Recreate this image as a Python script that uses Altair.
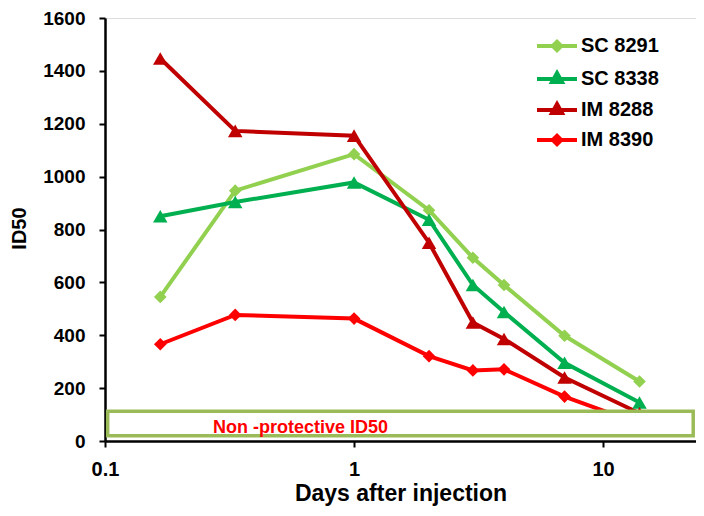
import altair as alt
import pandas as pd

# ---- data ----
days = [0.1667, 0.3333, 1, 2, 3, 4, 7, 14]
series_names = ["SC 8291", "SC 8338", "IM 8288", "IM 8390"]
sc_8291 = [545, 947, 1085, 873, 693, 590, 398, 225]
sc_8338 = [850, 904, 978, 837, 590, 488, 296, 146]
im_8288 = [1447, 1173, 1155, 750, 448, 386, 240, 105]
im_8390 = [366, 477, 463, 321, 267, 271, 168, 65]

x_ticks = [0.1, 1, 10]
y_ticks = [0, 200, 400, 600, 800, 1000, 1200, 1400, 1600]

# non-protective band and its label (data units)
band_x = [0.1025, 23.0]
band_y = [20, 113]
note_text = "Non -protective ID50"
note_x = 0.61
note_y = 50

# ---- styles ----
series_colors = ["#92D050", "#00B050", "#C00000", "#FF0000"]
diamond_series = ["SC 8291", "IM 8390"]
triangle_series = ["SC 8338", "IM 8288"]
legend_diamond = "M-2,0L2,0M-0.42,0L0,-0.42L0.42,0L0,0.42Z"
legend_triangle = "M-2,0L2,0M0,-0.6L0.5,0.3L-0.5,0.3Z"
legend_paths = [legend_diamond, legend_triangle, legend_triangle, legend_diamond]
FONT = "Liberation Sans"

rows = []
for name, vals in zip(series_names, [sc_8291, sc_8338, im_8288, im_8390]):
    for d, v in zip(days, vals):
        rows.append({"series": name, "days": d, "id50": v})
df = pd.DataFrame(rows)

band_df = pd.DataFrame({"days": [band_x[0]], "days2": [band_x[1]],
                        "id50": [band_y[0]], "id502": [band_y[1]]})
note_df = pd.DataFrame({"days": [note_x], "id50": [note_y], "label": [note_text]})

x_scale = alt.Scale(type="log", domain=[0.1, 23.6], nice=False)
y_scale = alt.Scale(domain=[0, 1600], nice=False, zero=True)

x_axis = alt.Axis(values=x_ticks, format="~g", grid=False,
                  labelFont=FONT, labelFontSize=20, labelFontWeight="bold",
                  labelColor="black", labelPadding=12, labelFlush=False,
                  tickSize=6, tickWidth=2, tickColor="black",
                  domainColor="black", domainWidth=2.5,
                  titleFont=FONT, titleFontSize=23, titleFontWeight="bold",
                  titleColor="black", titleY=52, titleBaseline="middle")
y_axis = alt.Axis(values=y_ticks, format="d", grid=False,
                  labelFont=FONT, labelFontSize=19, labelFontWeight="bold",
                  labelColor="black", labelPadding=14,
                  tickSize=6, tickWidth=2, tickColor="black",
                  domainColor="black", domainWidth=2.5,
                  titleFont=FONT, titleFontSize=20, titleFontWeight="bold",
                  titleColor="black", titleAngle=270, titleX=-86, titleY=210,
                  titleAlign="center", titleBaseline="middle")


def X(field="days"):
    return alt.X(f"{field}:Q", scale=x_scale, axis=x_axis, title="Days after injection")


def Y(field="id50"):
    return alt.Y(f"{field}:Q", scale=y_scale, axis=y_axis, title="ID50")


color_enc = alt.Color("series:N", scale=alt.Scale(domain=series_names, range=series_colors),
                      legend=None)

lines = alt.Chart(df).mark_line(strokeWidth=4).encode(
    x=X(), y=Y(), color=color_enc, order="days:Q")

diamonds = alt.Chart(df).transform_filter(
    alt.FieldOneOfPredicate(field="series", oneOf=diamond_series)
).mark_point(filled=True, opacity=1, strokeWidth=0, shape="diamond", size=160).encode(
    x=X(), y=Y(), color=color_enc)

triangles = alt.Chart(df).transform_filter(
    alt.FieldOneOfPredicate(field="series", oneOf=triangle_series)
).mark_point(filled=True, opacity=1, strokeWidth=0, shape="triangle-up", size=210).encode(
    x=X(), y=Y(), color=color_enc)

legend = alt.Legend(title=None, orient="none", legendX=432, legendY=16, padding=0,
                    labelFont=FONT, labelFontSize=20, labelFontWeight="bold",
                    labelColor="black", symbolSize=400, symbolStrokeWidth=4,
                    symbolOffset=8, labelOffset=12, rowPadding=6)

# legend carrier: its own points sit far below the axis and are clipped away
legend_layer = alt.Chart(df).transform_calculate(hidden="-100000").mark_point(
    filled=True, opacity=1, clip=True).encode(
    x=X(), y=alt.Y("hidden:Q", scale=y_scale, axis=y_axis, title="ID50"),
    fill=alt.Fill("series:N", scale=alt.Scale(domain=series_names, range=series_colors),
                  legend=legend),
    stroke=alt.Stroke("series:N", scale=alt.Scale(domain=series_names, range=series_colors),
                      legend=legend),
    shape=alt.Shape("series:N", scale=alt.Scale(domain=series_names, range=legend_paths),
                    legend=legend),
)

band = alt.Chart(band_df).mark_rect(fill="white", stroke="#9BBB59", strokeWidth=3.5).encode(
    x=X(), x2="days2:Q", y=Y(), y2="id502:Q")

note = alt.Chart(note_df).mark_text(font=FONT, fontSize=18, fontWeight="bold",
                                    color="#FF0000", align="center",
                                    baseline="middle").encode(
    x=X(), y=Y(), text="label:N")

chart = alt.layer(lines, diamonds, triangles, band, note, legend_layer).resolve_scale(
    fill="independent", stroke="independent", shape="independent"
).properties(
    width=591, height=423,
    autosize=alt.AutoSizeParams(type="none"),
    padding={"left": 97, "top": 10, "right": 0, "bottom": 67},
).configure_view(stroke=None).configure(background="white")

chart.save("out.html", embed_options={"renderer": "svg", "actions": False})
